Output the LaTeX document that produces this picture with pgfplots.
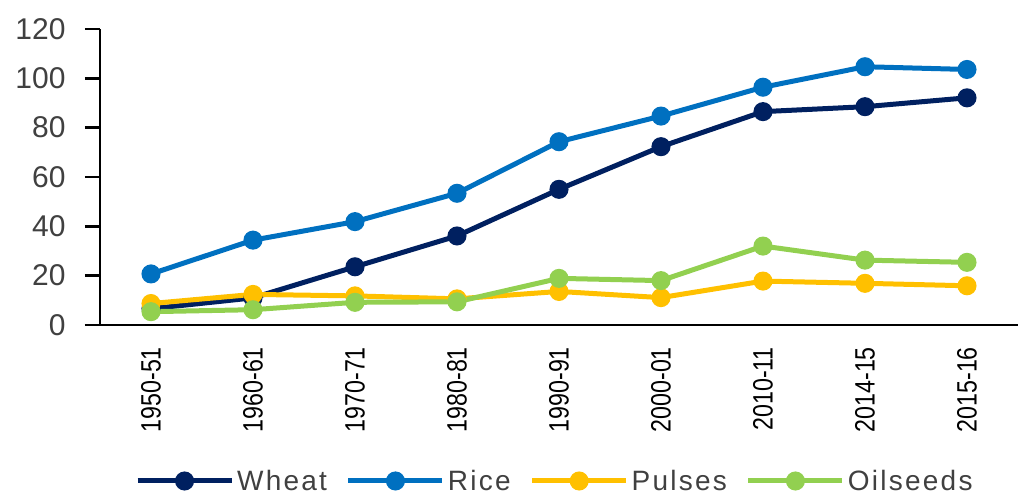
\documentclass[border=0pt]{standalone}
\usepackage{pgfplots}
\pgfplotsset{compat=1.18}
\usepackage{fontspec}
\setmainfont{Liberation Sans}
\definecolor{wheat}{HTML}{002060}
\definecolor{rice}{HTML}{0070C0}
\definecolor{pulses}{HTML}{FFC000}
\definecolor{oil}{HTML}{92D050}
\definecolor{txt}{HTML}{404040}
\begin{document}
\begin{tikzpicture}
\useasboundingbox (-100pt,-170pt) rectangle (918pt,325pt);
\begin{axis}[
  at={(0,0)}, anchor=south west,
  scale only axis, width=918pt, height=296pt,
  xmin=-0.5, xmax=8.5, ymin=0, ymax=120,
  ytick={0,20,...,120},
  xtick={0,...,8},
  xticklabels={1950-51,1960-61,1970-71,1980-81,1990-91,2000-01,2010-11,2014-15,2015-16},
  axis x line*=bottom, axis y line*=left,
  axis line style={black, line width=2.5pt, -},
  x axis line style={shorten <=-15pt},
  tick style={black, line width=2.5pt},
  major tick length=15pt,
  xtick style={draw=none},
  tick align=outside,
  /pgf/number format/assume math mode=true,
  yticklabel style={font=\fontsize{30}{30}\selectfont, text=txt, xshift=-16pt},
  xticklabel style={font=\fontsize{28}{28}\selectfont, text=black, rotate=90, xscale=0.83, anchor=east, xshift=-5pt},
  every axis plot/.append style={line width=5pt, mark=*, mark size=7pt},
  legend columns=4,
  legend style={at={(0.496,-0.527)}, anchor=center, draw=none, fill=none,
    font=\fontsize{28}{28}\selectfont\addfontfeature{LetterSpace=8}, text=txt,
    nodes={inner xsep=3pt, inner ysep=0pt},
    /tikz/every even column/.append style={column sep=16pt}},
  legend image code/.code={\draw[mark repeat=2, mark phase=2, #1] plot coordinates {(0pt,0pt) (47pt,0pt) (94pt,0pt)};},
]
\addplot[color=wheat, mark options={fill=wheat}] coordinates {(0,6.6) (1,11) (2,23.6) (3,36.1) (4,55) (5,72.3) (6,86.5) (7,88.5) (8,92.1)};
\addlegendentry{Wheat}
\addplot[color=rice, mark options={fill=rice}] coordinates {(0,20.7) (1,34.4) (2,41.9) (3,53.4) (4,74.3) (5,84.7) (6,96.4) (7,104.7) (8,103.6)};
\addlegendentry{Rice}
\addplot[color=pulses, mark options={fill=pulses}] coordinates {(0,8.7) (1,12.4) (2,11.8) (3,10.6) (4,13.6) (5,11.1) (6,17.8) (7,16.9) (8,15.9)};
\addlegendentry{Pulses}
\addplot[color=oil, mark options={fill=oil}] coordinates {(0,5.4) (1,6.2) (2,9.2) (3,9.4) (4,18.9) (5,18) (6,32) (7,26.3) (8,25.4)};
\addlegendentry{Oilseeds}
\end{axis}
\end{tikzpicture}
\end{document}
